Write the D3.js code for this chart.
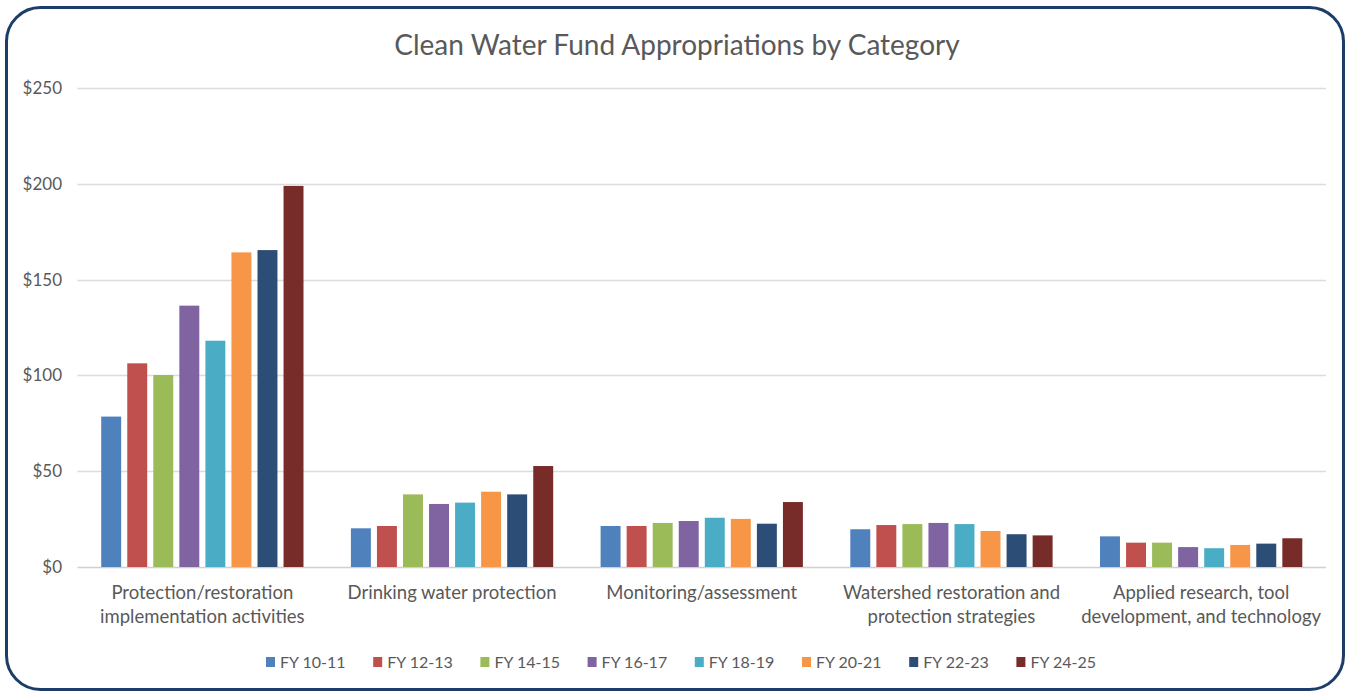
<!DOCTYPE html>
<html>
<head>
<meta charset="utf-8">
<script src="https://cdn.jsdelivr.net/npm/d3@7"></script>
<style>
  body { margin: 0; background: #fff; }
  svg { display: block; }
</style>
</head>
<body>
<div id="chart"></div>
<script>
// Clean Water Fund Appropriations by Category (millions)

const categories = [
    ["Protection/restoration", "implementation activities"],
    ["Drinking water protection"],
    ["Monitoring/assessment"],
    ["Watershed restoration and", "protection strategies"],
    ["Applied research, tool", "development, and technology"]
];

const seriesNames = ["FY 10-11", "FY 12-13", "FY 14-15", "FY 16-17", "FY 18-19", "FY 20-21", "FY 22-23", "FY 24-25"];
const seriesColors = ["#4f81bd", "#c0504d", "#9bbb59", "#8064a2", "#4bacc6", "#f79646", "#2c4d75", "#772c2a"];

// one array per fiscal year, in category order
const fy1011 = [78.5, 20.2, 21.4, 19.7, 16.0];
const fy1213 = [106.3, 21.4, 21.4, 21.9, 12.7];
const fy1415 = [100.2, 37.9, 23.0, 22.4, 12.7];
const fy1617 = [136.4, 32.9, 24.0, 23.0, 10.4];
const fy1819 = [118.1, 33.6, 25.7, 22.4, 9.8];
const fy2021 = [164.2, 39.3, 25.1, 18.8, 11.5];
const fy2223 = [165.4, 37.9, 22.6, 17.1, 12.2];
const fy2425 = [198.9, 52.7, 33.9, 16.5, 15.0];
const seriesValues = [fy1011, fy1213, fy1415, fy1617, fy1819, fy2021, fy2223, fy2425];

const yTicks = [0, 50, 100, 150, 200, 250];

const W = 1351, H = 692;
const font = "Lato, 'Open Sans', sans-serif";
const textColor = "#595959";

const svg = d3.select("#chart").append("svg")
    .attr("width", W)
    .attr("height", H);

// rounded frame
svg.append("rect")
    .attr("x", 6.5).attr("y", 7.5)
    .attr("width", 1337).attr("height", 682)
    .attr("rx", 34).attr("ry", 34)
    .attr("fill", "#fff")
    .attr("stroke", "#1b3d68")
    .attr("stroke-width", 3);

svg.append("text")
    .attr("x", 677)
    .attr("y", 55)
    .attr("text-anchor", "middle")
    .style("font-family", font)
    .style("font-size", "28px")
    .style("fill", textColor)
    .text("Clean Water Fund Appropriations by Category");

// scales
const plotLeft = 77.5, plotRight = 1326;
const y = d3.scaleLinear().domain([0, 250]).range([567, 88]);

const x0 = d3.scaleBand()
    .domain(d3.range(categories.length))
    .range([plotLeft, plotRight]);

const x1 = d3.scaleBand()
    .domain(d3.range(seriesNames.length))
    .range([0, x0.bandwidth()])
    .paddingInner(0.234)
    .paddingOuter(0.91);

// gridlines
svg.append("g")
    .selectAll("line")
    .data(yTicks)
    .join("line")
    .attr("x1", plotLeft)
    .attr("x2", plotRight)
    .attr("y1", function(d){ return Math.round(y(d)) + 0.5; })
    .attr("y2", function(d){ return Math.round(y(d)) + 0.5; })
    .attr("stroke", function(d){ return d === 0 ? "#d0d0d0" : "#dcdcdc"; })
    .attr("stroke-width", 1.5);

// y axis labels
svg.append("g")
    .selectAll("text")
    .data(yTicks)
    .join("text")
    .attr("x", 62)
    .attr("y", function(d){ return y(d) + 6; })
    .attr("text-anchor", "end")
    .style("font-family", font)
    .style("font-size", "17px")
    .style("fill", textColor)
    .text(function(d){ return "$" + d; });

// bars
const groups = svg.append("g")
    .selectAll("g")
    .data(seriesValues)
    .join("g")
    .attr("fill", function(d, i){ return seriesColors[i]; });

groups.each(function(vals, si){
    d3.select(this).selectAll("rect")
        .data(vals)
        .join("rect")
        .attr("x", function(v, ci){ return x0(ci) + x1(si); })
        .attr("y", function(v){ return y(v); })
        .attr("width", x1.bandwidth())
        .attr("height", function(v){ return y(0) - y(v); });
});

// category labels
const catLabels = svg.append("g")
    .selectAll("text")
    .data(categories)
    .join("text")
    .attr("x", function(d, i){ return x0(i) + x0.bandwidth() / 2; })
    .attr("y", 599)
    .attr("text-anchor", "middle")
    .style("font-family", font)
    .style("font-size", "18.5px")
    .style("fill", textColor);

catLabels.selectAll("tspan")
    .data(function(d){ return d; })
    .join("tspan")
    .attr("x", function(){ return d3.select(this.parentNode).attr("x"); })
    .attr("dy", function(d, i){ return i === 0 ? 0 : 24; })
    .text(function(d){ return d; });

// legend
const legend = svg.append("g")
    .selectAll("g")
    .data(seriesNames)
    .join("g")
    .attr("transform", function(d, i){ return "translate(" + (266 + i * 107.2) + ",657)"; });

legend.append("rect")
    .attr("width", 9)
    .attr("height", 10)
    .attr("fill", function(d, i){ return seriesColors[i]; });

legend.append("text")
    .attr("x", 14)
    .attr("y", 10.5)
    .style("font-family", font)
    .style("font-size", "16px")
    .style("fill", textColor)
    .text(function(d){ return d; });
</script>
</body>
</html>
